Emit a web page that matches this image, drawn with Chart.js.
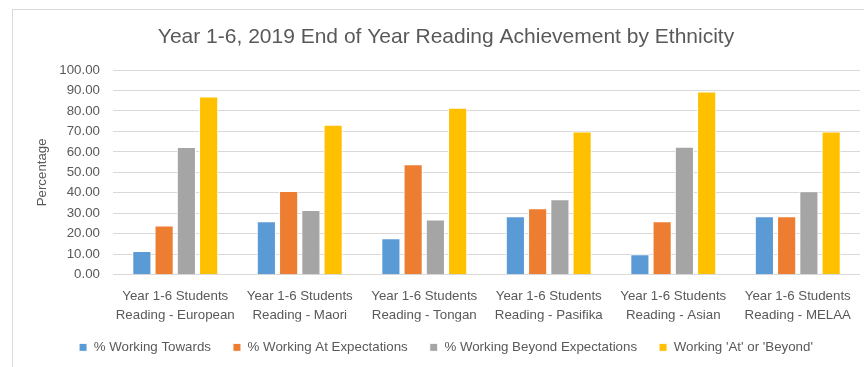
<!DOCTYPE html>
<html>
<head>
<meta charset="utf-8">
<title>Year 1-6 Reading Achievement by Ethnicity</title>
<script src="https://cdn.jsdelivr.net/npm/chart.js@4/dist/chart.umd.min.js"></script>
<style>
  html, body { margin: 0; padding: 0; background: #ffffff; }
  #wrap { position: relative; width: 864px; height: 367px; }
</style>
</head>
<body>
<div id="wrap"><canvas id="chart-reading"></canvas></div>
<script>
// 2019 end of year results, percentages per ethnic group
var groups = [
    ['Year 1-6 Students', 'Reading - European'],
    ['Year 1-6 Students', 'Reading - Maori'],
    ['Year 1-6 Students', 'Reading - Tongan'],
    ['Year 1-6 Students', 'Reading - Pasifika'],
    ['Year 1-6 Students', 'Reading - Asian'],
    ['Year 1-6 Students', 'Reading - MELAA']
];
var workingTowards = [11.6, 26.1, 17.8, 28.6, 10.0, 28.6];
var workingAt      = [24.0, 40.9, 53.9, 32.5, 26.1, 28.6];
var workingBeyond  = [62.4, 31.6, 27.0, 36.9, 62.5, 40.8];
var atOrBeyond     = [87.0, 73.3, 81.6, 70.0, 89.5, 70.0];
var yTicks = [0, 10, 20, 30, 40, 50, 60, 70, 80, 90, 100];

var textGrey = '#595959';
var small = { family: "'Liberation Sans', Arial, sans-serif", size: 13.3 };

// light frame round the chart, as in the spreadsheet export
var frame = {
    id: 'frame',
    beforeDraw: function (chart) {
        var ctx = chart.ctx;
        ctx.save();
        ctx.fillStyle = '#ffffff';
        ctx.fillRect(0, 0, chart.width, chart.height);
        ctx.strokeStyle = '#d9d9d9';
        ctx.lineWidth = 1;
        ctx.strokeRect(12.5, 9.5, chart.width + 20, chart.height + 20);
        ctx.restore();
    }
};

// pull the legend row up a little so it sits tight under the category labels
var legendNudge = {
    id: 'legendNudge',
    afterLayout: function (chart) {
        chart.legend.top -= 3;
        chart.legend.bottom -= 3;
    }
};

function series(label, data, colour) {
    return {
        label: label,
        data: data,
        backgroundColor: colour,
        borderColor: '#ffffff',
        borderWidth: 1,
        barPercentage: 0.86,
        categoryPercentage: 0.715
    };
}

var chartReading = new Chart(document.getElementById('chart-reading'), {
    type: 'bar',
    data: {
        labels: groups,
        datasets: [
            series('% Working Towards', workingTowards, '#5b9bd5'),
            series('% Working At Expectations', workingAt, '#ed7d31'),
            series('% Working Beyond Expectations', workingBeyond, '#a5a5a5'),
            series("Working 'At' or 'Beyond'", atOrBeyond, '#ffc000')
        ]
    },
    options: {
        responsive: true,
        maintainAspectRatio: false,
        animation: false,
        layout: { padding: { left: 30, right: 2, top: 0, bottom: 0 } },
        plugins: {
            title: {
                display: true,
                text: 'Year 1-6, 2019 End of Year Reading Achievement by Ethnicity',
                color: textGrey,
                font: { family: "'Liberation Sans', Arial, sans-serif", size: 21, weight: 'normal' },
                padding: { top: 24.4, bottom: 20.4 }
            },
            legend: {
                position: 'bottom',
                labels: {
                    color: textGrey,
                    font: small,
                    boxWidth: 8,
                    boxHeight: 8,
                    padding: 22
                }
            },
            tooltip: { enabled: false }
        },
        scales: {
            x: {
                grid: { display: false, drawTicks: false },
                border: { display: false },
                ticks: {
                    color: textGrey,
                    font: { family: small.family, size: 13.3, lineHeight: 1.375 },
                    padding: 12.85,
                    maxRotation: 0,
                    autoSkip: false
                },
                afterFit: function (scale) { scale.height = 47; }
            },
            y: {
                min: 0,
                max: 100,
                afterBuildTicks: function (scale) {
                    scale.ticks = yTicks.map(function (v) { return { value: v }; });
                },
                grid: { color: '#d9d9d9', drawTicks: false },
                border: { display: false },
                ticks: {
                    color: textGrey,
                    font: small,
                    padding: 13,
                    callback: function (v) { return Number(v).toFixed(2); }
                },
                title: {
                    display: true,
                    text: 'Percentage',
                    color: textGrey,
                    font: small,
                    padding: { top: 4, bottom: 0 }
                },
                afterFit: function (scale) { scale.width = 83; }
            }
        }
    },
    plugins: [frame, legendNudge]
});
</script>
</body>
</html>
